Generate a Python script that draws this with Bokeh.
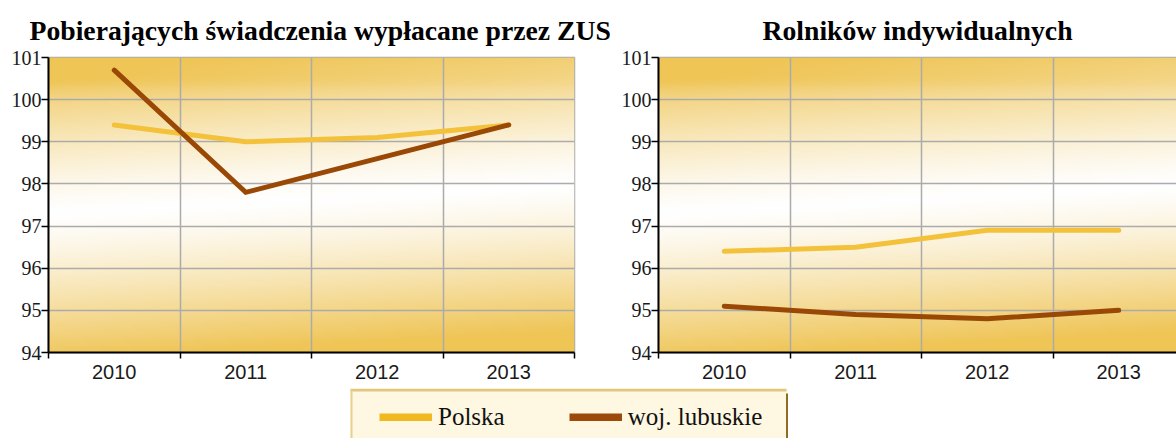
import numpy as np
from bokeh.plotting import figure
from bokeh.models import Range1d, FixedTicker, Legend, LegendItem
from bokeh.layouts import column, row
from bokeh.embed import file_html
from bokeh.resources import INLINE

# ---------------- data ----------------
years = ["2010", "2011", "2012", "2013"]
zus_polska = [99.4, 99.0, 99.1, 99.4]
zus_lubuskie = [100.7, 97.8, 98.6, 99.4]
rol_polska = [96.4, 96.5, 96.9, 96.9]
rol_lubuskie = [95.1, 94.9, 94.8, 95.0]
y_ticks = [94, 95, 96, 97, 98, 99, 100, 101]
titles = ["Pobierających świadczenia wypłacane przez ZUS", "Rolników indywidualnych"]
series_names = ["Polska", "woj. lubuskie"]

COL_PL = "#F4C13A"
COL_LB = "#9A4806"
GRID = "#ABABAB"

centers = [i + 0.5 for i in range(len(years))]
edges = [float(i) for i in range(len(years) + 1)]


def gradient():
    ny, nx = 160, 200
    ys = np.linspace(0, 1, ny)[:, None]
    xs = np.linspace(0, 1, nx)[None, :]
    c = 0.47 + 0.10 * xs
    d = ys - c
    f = np.clip(np.abs(d) / 0.5, 0, 1) ** 1.3
    # slightly stronger streak near the top
    f = np.clip(f + 0.12 * np.exp(-((ys - 0.93) / 0.04) ** 2) * (1 - 0.5 * xs), 0, 1)
    gold = np.array([239, 197, 86])
    img = np.empty((ny, nx), dtype=np.uint32)
    view = img.view(dtype=np.uint8).reshape((ny, nx, 4))
    for k in range(3):
        view[:, :, k] = np.clip(255 + (gold[k] - 255) * f, 0, 255).astype(np.uint8)
    view[:, :, 3] = 255
    return img


def panel(title, pl, lb, width, x_end, border_right, title_align, title_offset):
    p = figure(width=width, height=388,
               x_range=Range1d(0, x_end), y_range=Range1d(y_ticks[0], y_ticks[-1]),
               output_backend="svg", toolbar_location=None,
               min_border_left=48, min_border_right=border_right,
               min_border_top=55, min_border_bottom=36)
    p.background_fill_color = "white"
    p.border_fill_color = "white"
    p.outline_line_color = GRID
    p.outline_line_width = 1.5

    p.title.text = title
    p.title.align = title_align
    p.title.offset = title_offset
    p.title.text_font = "Liberation Serif"
    p.title.text_font_style = "bold"
    p.title.text_font_size = "27.7px"
    p.title.text_line_height = 0.9
    p.title.text_color = "black"
    p.title.standoff = 24

    img = p.image_rgba(image=[gradient()], x=0, y=y_ticks[0], dw=len(years),
                       dh=y_ticks[-1] - y_ticks[0])
    img.level = "image"

    xt = FixedTicker(ticks=centers, minor_ticks=edges)
    p.xaxis.ticker = xt
    p.xgrid.ticker = xt
    p.xaxis.major_label_overrides = {c: yv for c, yv in zip(centers, years)}
    p.xaxis.major_tick_out = 0
    p.xaxis.major_tick_in = 0
    p.xaxis.minor_tick_out = 6
    p.xaxis.minor_tick_in = 0
    p.xaxis.minor_tick_line_color = "black"
    p.xaxis.minor_tick_line_width = 1.5
    p.xaxis.axis_line_color = "black"
    p.xaxis.axis_line_width = 2
    p.xaxis.major_label_text_font = "Liberation Sans"
    p.xaxis.major_label_text_font_size = "20px"
    p.xaxis.major_label_text_color = "#1a1a1a"
    p.xaxis.major_label_standoff = 6
    p.xgrid.grid_line_color = None
    p.xgrid.minor_grid_line_color = GRID
    p.xgrid.minor_grid_line_width = 1.5

    yt = FixedTicker(ticks=y_ticks)
    p.yaxis.ticker = yt
    p.ygrid.ticker = yt
    p.yaxis.major_tick_out = 7
    p.yaxis.major_tick_in = 0
    p.yaxis.major_tick_line_width = 1.5
    p.yaxis.minor_tick_out = 0
    p.yaxis.minor_tick_in = 0
    p.yaxis.axis_line_color = "black"
    p.yaxis.axis_line_width = 2
    p.yaxis.major_label_text_font = "Liberation Serif"
    p.yaxis.major_label_text_font_size = "20px"
    p.yaxis.major_label_text_color = "#1a1a1a"
    p.yaxis.major_label_standoff = 0
    p.ygrid.grid_line_color = GRID
    p.ygrid.grid_line_width = 1.5

    p.line(centers, pl, line_color=COL_PL, line_width=5, line_cap="round", line_join="miter")
    p.line(centers, lb, line_color=COL_LB, line_width=5, line_cap="round", line_join="miter")
    return p


p1 = panel(titles[0], zus_polska, zus_lubuskie, 610, len(years), 36, "left", -19)
p2 = panel(titles[1], rol_polska, rol_lubuskie, 566, 518 / 131.5, 0, "center", 0)

# ---------------- legend strip ----------------
lg = figure(width=1176, height=50, x_range=Range1d(0, 1176), y_range=Range1d(0, 50),
            output_backend="svg", toolbar_location=None, min_border=0,
            x_axis_location=None, y_axis_location=None)
lg.grid.visible = False
lg.outline_line_color = None
lg.background_fill_color = "white"
lg.border_fill_color = "white"
lg.quad(left=350, right=787, bottom=-5, top=49, fill_color="#FEF7E2", line_color=None)
lg.segment(x0=[350, 351], y0=[48.5, 49], x1=[786, 351], y1=[48.5, -5],
           line_color=["#E3C67C", "#E8CF90"], line_width=[3, 2])
lg.segment(x0=[786.5], y0=[45], x1=[786.5], y1=[-5], line_color="#8E6C22", line_width=2)

r1 = lg.line(x=[-100, -90], y=[-100, -100], line_color="#F2B820", line_width=8)
r2 = lg.line(x=[-100, -90], y=[-100, -100], line_color="#9B4A0C", line_width=8)
legend = Legend(items=[LegendItem(label=series_names[0], renderers=[r1]),
                       LegendItem(label=series_names[1], renderers=[r2])],
                orientation="horizontal", location=(379, 7), padding=0, margin=0,
                spacing=64, label_standoff=6, glyph_width=53, glyph_height=8,
                label_text_font="Liberation Serif", label_text_font_size="25px",
                label_text_color="#111111",
                border_line_color=None, background_fill_alpha=0)
lg.add_layout(legend)

layout = column(row(p1, p2), lg)
open("out.html", "w").write(file_html(layout, INLINE))
